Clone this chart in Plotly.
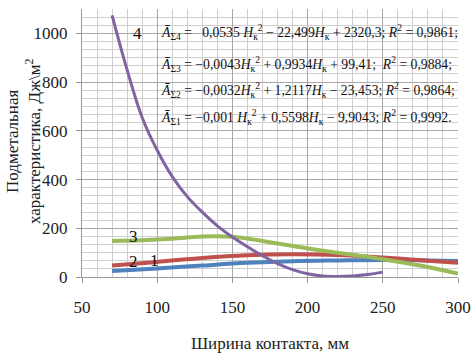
import plotly.graph_objects as go

# ---- data ----
x1 = [70, 100, 130, 160, 190, 220, 250, 280, 300]
y1 = [25, 35, 47, 58, 65, 68, 70, 68, 66]

x2 = [70, 100, 130, 160, 190, 220, 250, 280, 300]
y2 = [47, 62, 78, 89, 93, 90, 80, 67, 58]

x3 = [70, 90, 110, 130, 150, 170, 190, 210, 230, 250, 270, 290, 300]
y3 = [148, 151, 157, 166, 165, 148, 127, 108, 91, 73, 52, 28, 14]

x4 = [70, 80, 90, 100, 110, 120, 130, 140, 150, 160, 170, 180, 190, 200, 210, 220, 230, 240, 250]
y4 = [1074, 850, 655, 520, 412, 330, 266, 210, 164, 124, 87, 55, 30, 13, 4, 2, 4, 10, 20]

curve_labels = ["1", "2", "3", "4"]
label_x = [98, 84, 84, 87]
label_y = [66, 62, 165, 1000]

y_title = "Подметальная<br>характеристика, Дж\\м<sup>2</sup>"
x_title = "Ширина контакта, мм"

equations = [
    "<i>Ā</i><sub>Σ4</sub> =   0,0535 <i>H</i><sub>к</sub><sup>2</sup> − 22,499<i>H</i><sub>к</sub> + 2320,3; <i>R</i><sup>2</sup> = 0,9861;",
    "<i>Ā</i><sub>Σ3</sub> = −0,0043<i>H</i><sub>к</sub><sup>2</sup> + 0,9934<i>H</i><sub>к</sub> + 99,41;  <i>R</i><sup>2</sup> = 0,9884;",
    "<i>Ā</i><sub>Σ2</sub> = −0,0032<i>H</i><sub>к</sub><sup>2</sup> + 1,2117<i>H</i><sub>к</sub> − 23,453; <i>R</i><sup>2</sup> = 0,9864;",
    "<i>Ā</i><sub>Σ1</sub> = −0,001 <i>H</i><sub>к</sub><sup>2</sup> + 0,5598<i>H</i><sub>к</sub> − 9,9043; <i>R</i><sup>2</sup> = 0,9992.",
]
eq_y = [0.913, 0.795, 0.698, 0.597]

colors = ["#4F81BD", "#C0504D", "#9BBB59", "#8064A2"]
FONT = "Liberation Serif"

fig = go.Figure()
for xs, ys, c, w in [(x1, y1, colors[0], 4), (x2, y2, colors[1], 4),
                     (x3, y3, colors[2], 4), (x4, y4, colors[3], 3)]:
    fig.add_trace(go.Scatter(x=xs, y=ys, mode="lines",
                             line=dict(color=c, width=w, shape="spline", smoothing=1.0),
                             showlegend=False, hoverinfo="skip"))

for t, lx, ly in zip(curve_labels, label_x, label_y):
    fig.add_annotation(x=lx, y=ly, text=t, showarrow=False,
                       font=dict(family=FONT, size=17, color="#111"))

# white panel behind the equations
fig.add_shape(type="rect", xref="paper", yref="paper", x0=0.185, x1=1.05, y0=0.522, y1=0.99,
              fillcolor="white", line=dict(width=0), layer="between")

for t, yy in zip(equations, eq_y):
    fig.add_annotation(xref="paper", yref="paper", x=0.205, y=yy, xanchor="left",
                       yanchor="middle", text=t, showarrow=False,
                       font=dict(family=FONT, size=13.7, color="#111"))

# y-axis title (two centred lines, rotated)
fig.add_annotation(xref="paper", yref="paper", x=-0.156, y=0.505, xanchor="center",
                   yanchor="middle", text=y_title, textangle=-90, showarrow=False,
                   font=dict(family=FONT, size=17, color="#222"))

fig.update_layout(
    width=473, height=364,
    margin=dict(l=82, r=15, t=9, b=87),
    paper_bgcolor="white", plot_bgcolor="white",
    font=dict(family=FONT, size=17, color="#222"),
)
fig.update_xaxes(range=[50, 300], tickvals=[50, 100, 150, 200, 250, 300],
                 showgrid=True, gridcolor="#a8a8a8", gridwidth=1,
                 minor=dict(dtick=10, showgrid=True, gridcolor="#cfcfcf", gridwidth=1),
                 showline=True, linecolor="#9a9a9a", ticks="outside", ticklen=5, tickcolor="#9a9a9a",
                 ticklabelstandoff=10, zeroline=False, automargin=False,
                 title=dict(text=x_title, font=dict(family=FONT, size=17), standoff=20))
fig.update_yaxes(range=[0, 1100], tickvals=[0, 200, 400, 600, 800, 1000],
                 showgrid=True, gridcolor="#a8a8a8", gridwidth=1,
                 minor=dict(dtick=200/6, showgrid=True, gridcolor="#cfcfcf", gridwidth=1),
                 showline=True, linecolor="#9a9a9a", ticks="outside", ticklen=5, tickcolor="#9a9a9a",
                 ticklabelstandoff=5, zeroline=False, automargin=False)

fig.write_html("out.html", config={"displayModeBar": False},
               post_script="document.body.style.margin='0';document.body.style.overflow='hidden';")
